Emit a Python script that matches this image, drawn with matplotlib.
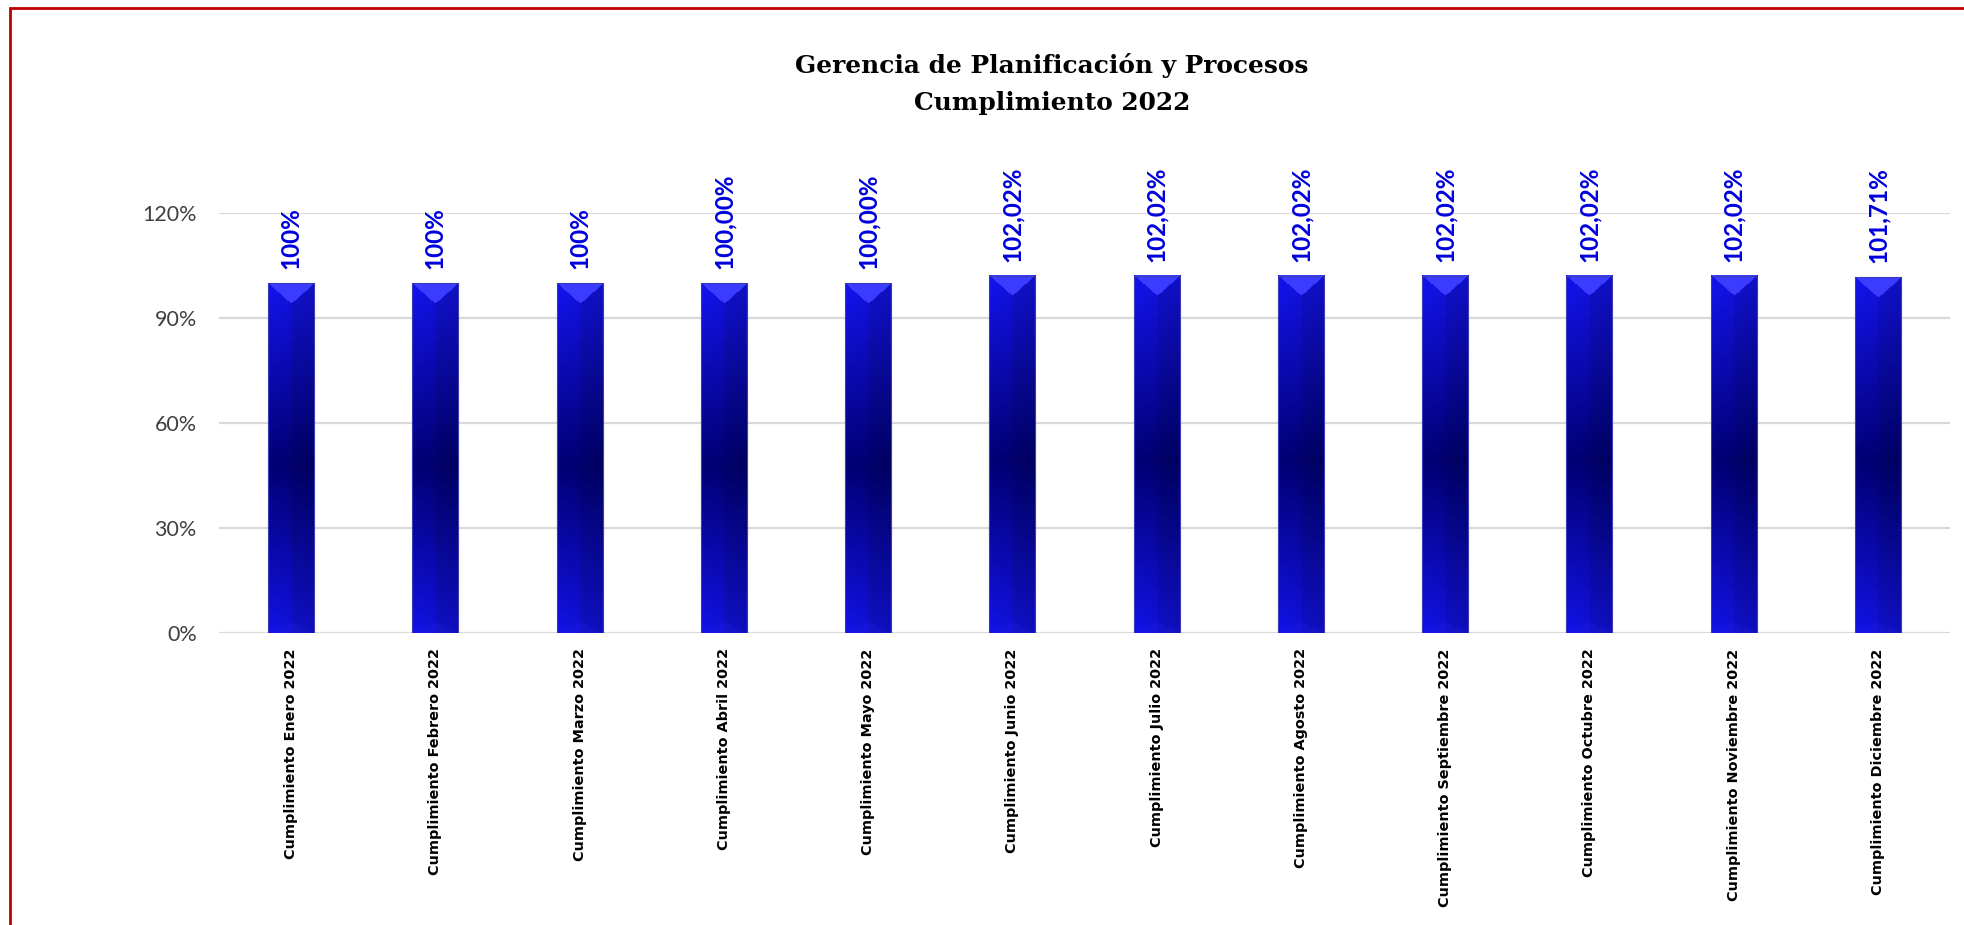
import matplotlib
matplotlib.use('Agg')
import matplotlib.pyplot as plt
import numpy as np
from matplotlib.patches import Rectangle

months = ['Enero', 'Febrero', 'Marzo', 'Abril', 'Mayo', 'Junio', 'Julio',
          'Agosto', 'Septiembre', 'Octubre', 'Noviembre', 'Diciembre']
categories = [f'Cumplimiento {m} 2022' for m in months]
values = [1.0, 1.0, 1.0, 1.0, 1.0, 1.0202, 1.0202, 1.0202, 1.0202, 1.0202, 1.0202, 1.0171]
value_labels = ['100%', '100%', '100%', '100,00%', '100,00%', '102,02%', '102,02%',
                '102,02%', '102,02%', '102,02%', '102,02%', '101,71%']
yticks = [0, 0.3, 0.6, 0.9, 1.2]

W, H, DPI = 1964, 925, 100
fig = plt.figure(figsize=(W / DPI, H / DPI), dpi=DPI)
ax = fig.add_axes([219 / W, (H - 633) / H, (1950 - 219) / W, 420 / H])

x = np.arange(len(categories))
bars = ax.bar(x, values, width=0.32, color='none', edgecolor='none', zorder=3)
ax.set_xlim(-0.5, len(categories) - 0.5)
ax.set_ylim(0, 1.2)

# gradient fill for each bar, built in pixel space so the bevel keeps 45 degrees
bright = np.array([20, 20, 240]) / 255
dark = np.array([0, 0, 118]) / 255
bevel = np.array([60, 60, 255]) / 255
fig.canvas.draw()
for bar in bars:
    x0, y0 = bar.get_x(), bar.get_y()
    x1, y1 = x0 + bar.get_width(), y0 + bar.get_height()
    (px0, py0), (px1, py1) = ax.transData.transform([(x0, y0), (x1, y1)])
    nw, nh = max(int(round(px1 - px0)), 2), max(int(round(py1 - py0)), 2)
    t = np.linspace(0, 1, nh)[:, None]  # 0 top, 1 bottom
    prof = np.clip(np.abs(t - 0.52) / 0.52, 0, 1) ** 1.0
    s = np.linspace(0, 1, nw)[None, :]
    hfac = 1.0 - 0.1 * s - 0.08 * (s > 0.5)
    img = (dark + (bright - dark) * prof[..., None]) * hfac[..., None]
    rows = np.arange(nh)[:, None]
    cols = np.arange(nw)[None, :]
    tri = rows < np.minimum(cols, nw - 1 - cols) * 0.9
    img[tri] = bevel
    tri_b = (nh - 1 - rows) < np.minimum(cols, nw - 1 - cols) * 0.45
    img[tri_b] = img[tri_b] * 0.9 + 0.1 * bevel
    ax.imshow(np.clip(img, 0, 1), extent=(x0, x1, y0, y1), aspect='auto',
              interpolation='bilinear', zorder=3)
    ax.add_patch(Rectangle((x0, y0), x1 - x0, y1 - y0, fill=False,
                           edgecolor='#3b3bb8', linewidth=0.8, zorder=4))

for xi, v, lab in zip(x, values, value_labels):
    ax.annotate(lab, (xi, v), xytext=(0, 10), textcoords='offset points',
                rotation=90, ha='center', va='bottom', color='#0000dd',
                fontsize=17.5, fontweight='bold', family='Lato', zorder=5)

ax.set_xlim(-0.5, len(categories) - 0.5)
ax.set_ylim(0, 1.2)
ax.set_yticks(yticks)
ax.set_yticklabels([f'{int(round(v * 100))}%' for v in yticks],
                   family='Lato', fontsize=15.5, color='#404040')
ax.set_xticks(x)
ax.set_xticklabels(categories, rotation=90, ha='center', va='top',
                   family='DejaVu Sans', fontweight='bold', fontsize=10.4, color='black')
ax.tick_params(axis='y', length=0, pad=16)
ax.tick_params(axis='x', length=0, pad=11)
ax.grid(axis='y', color='#d9d9d9', linewidth=1.6, zorder=0)
ax.set_axisbelow(True)
for sp in ax.spines.values():
    sp.set_visible(False)

fig.text(1052 / W, 1 - 65 / H, 'Gerencia de Planificación y Procesos', ha='center', va='center',
         family='DejaVu Serif', fontweight='bold', fontsize=17.9)
fig.text(1052 / W, 1 - 103 / H, 'Cumplimiento 2022', ha='center', va='center',
         family='DejaVu Serif', fontweight='bold', fontsize=17.9)

fig.patches.append(Rectangle((10 / W, -0.1), 2, (H - 8) / H + 0.1, transform=fig.transFigure,
                             fill=False, edgecolor='#c00000', linewidth=2, figure=fig))

fig.savefig('out.png', dpi=DPI)
